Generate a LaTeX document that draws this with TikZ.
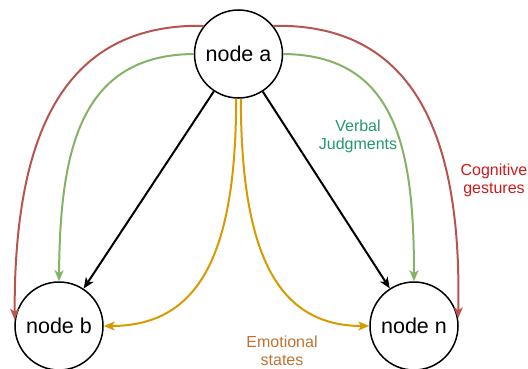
\documentclass[tikz,border=0pt]{standalone}
\usepackage{fontspec}
\setmainfont{Liberation Sans}
\usetikzlibrary{arrows.meta}
\definecolor{cogred}{HTML}{B85450}
\definecolor{verbgreen}{HTML}{82B366}
\definecolor{emoyellow}{HTML}{D79B00}
\definecolor{cogtext}{HTML}{CC1A1A}
\definecolor{verbtext}{HTML}{22996A}
\definecolor{emotext}{HTML}{BF7330}

\begin{document}
\begin{tikzpicture}[x=1pt,y=1pt,
    state/.style={circle, draw, line width=1.5pt, minimum size=88pt, inner sep=0pt, font=\fontsize{21.5}{24}\selectfont},
    lbl/.style={align=center, font=\fontsize{16}{18}\selectfont},
    conn/.style={line width=2pt, -{Stealth[length=11pt,width=9pt,inset=3pt]}}]
    \useasboundingbox (0,0) rectangle (528,368);
    % Knoten
    \node[state] (a) at (238.5,314) {node a};
    \node[state] (b) at (59,42) {node b};
    \node[state] (n) at (414,42) {node n};
    % Kognitiv
    \draw[conn, cogred] (a.141) .. controls (60,345) and (14,228) .. (b.172);
    \draw[conn, cogred] (a.39) .. controls (417,345) and (462,228) .. (n.10);
    % Verbal
    \draw[conn, verbgreen] (a.west) .. controls (80,313) and (60,218) .. (b.north);
    \draw[conn, verbgreen] (a.east) .. controls (397,313) and (414,218) .. (n.north);
    % direkt
    \draw[conn, black] (a) -- (b);
    \draw[conn, black] (a) -- (n);
    % Emotional
    \draw[conn, emoyellow] (a.-93) .. controls (236,115) and (200,42) .. (b.east);
    \draw[conn, emoyellow] (a.-87) .. controls (241,115) and (277,42) .. (n.west);
    % Labels
    \node[lbl, verbtext] (verbal) at (358,232) {Verbal\\Judgments};
    \node[lbl, cogtext] (cognitive) at (494,188) {Cognitive\\gestures};
    \node[lbl, emotext] (emotional) at (282,17) {Emotional\\states};
\end{tikzpicture}
\end{document}
